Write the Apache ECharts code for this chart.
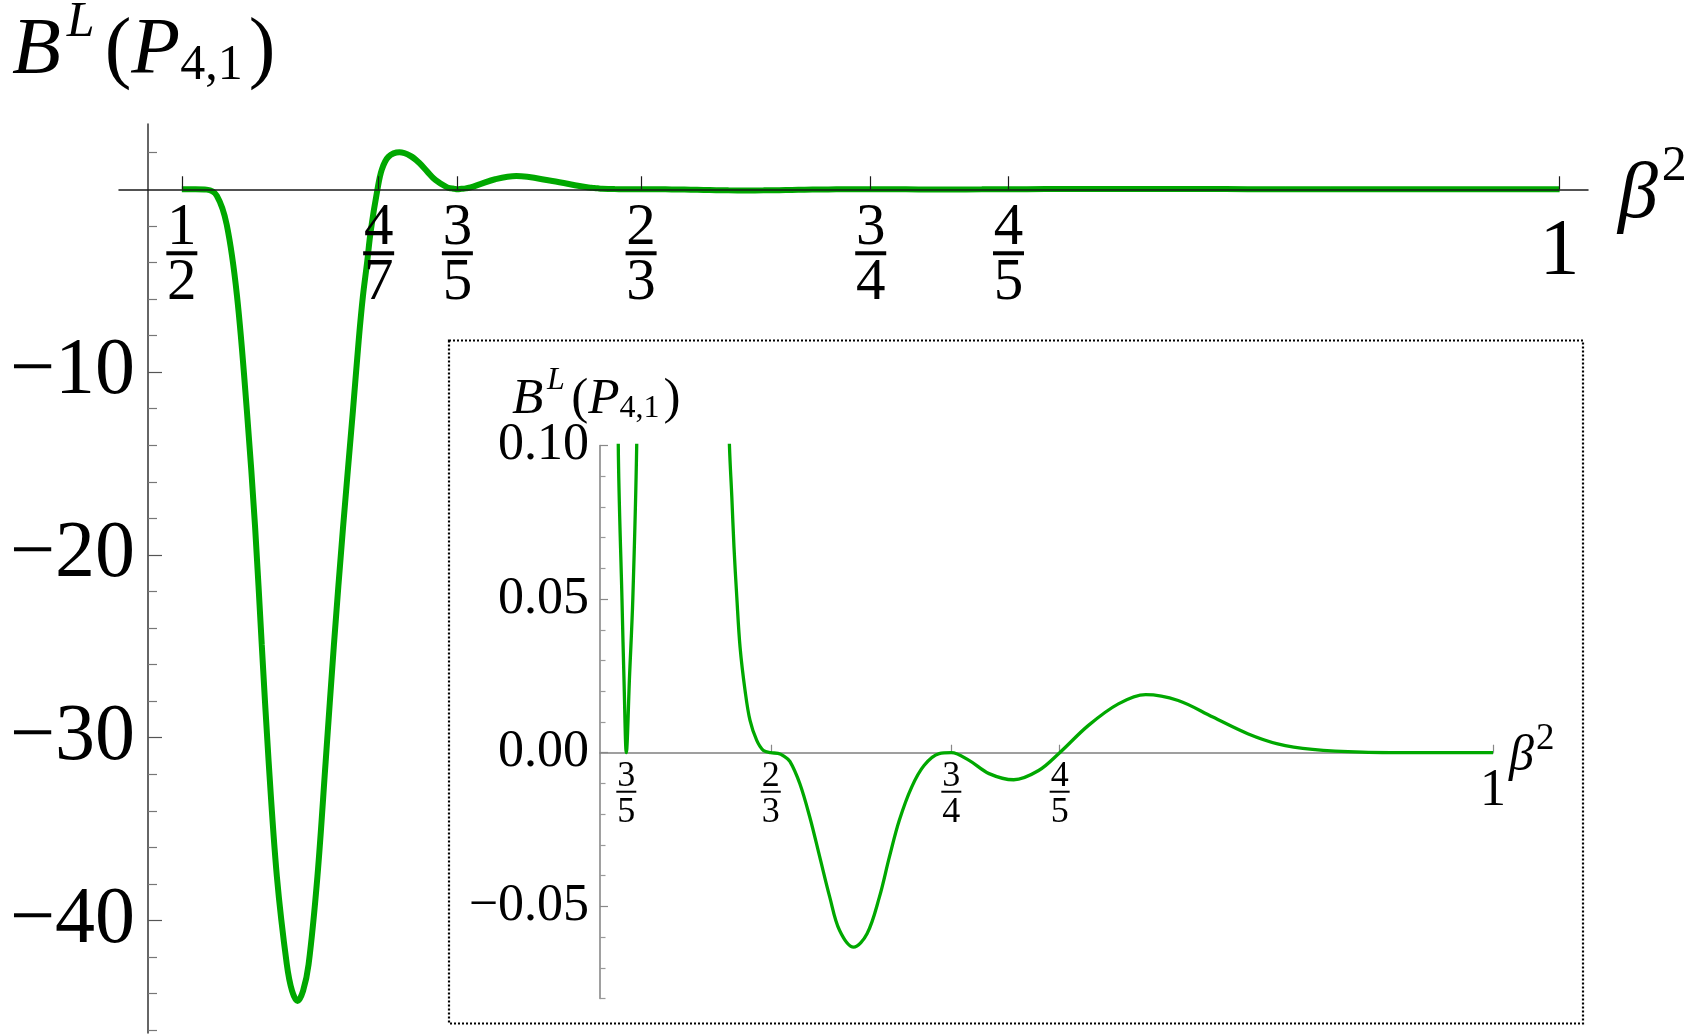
<!DOCTYPE html>
<html>
<head>
<meta charset="utf-8">
<script src="https://cdn.jsdelivr.net/npm/echarts@6/dist/echarts.min.js"></script>
<style>
html,body{margin:0;padding:0;background:#fff;}
#chart{width:1696px;height:1034px;}
</style>
</head>
<body>
<div id="chart"></div>
<script>
// ---- data ----
const betaSq = [
  0.5000, 0.5050, 0.5090, 0.5127, 0.5163, 0.5200, 0.5236, 0.5266, 0.5290, 0.5315,
  0.5345, 0.5381, 0.5400, 0.5420, 0.5440, 0.5460, 0.5492, 0.5522, 0.5552, 0.5585,
  0.5621, 0.5642, 0.5657, 0.5672, 0.5686, 0.5710, 0.5726, 0.5750, 0.5790, 0.5830,
  0.5863, 0.5890, 0.5920, 0.5963, 0.5980, 0.5990, 0.6000, 0.6015, 0.6030, 0.6048,
  0.6083, 0.6137, 0.6214, 0.6345, 0.6443, 0.6476, 0.6487, 0.6497, 0.6510, 0.6525,
  0.6548, 0.6571, 0.6602, 0.6633, 0.6667, 0.6700, 0.6725, 0.6755, 0.6801, 0.6847,
  0.6893, 0.6939, 0.6984, 0.7049, 0.7111, 0.7168, 0.7214, 0.7260, 0.7317, 0.7375,
  0.7444, 0.7500, 0.7582, 0.7674, 0.7788, 0.7903, 0.8000, 0.8133, 0.8271, 0.8397,
  0.8547, 0.8707, 0.8868, 0.9006, 0.9167, 0.9397, 0.9700, 1.0000
];
const bValue = [
  0, 0, -0.02, -0.35, -1.94, -5.8, -12.1, -18.5, -24.9, -31.3,
  -37.6, -42.4, -43.85, -44.4, -43.85, -42.4, -37.6, -31.3, -24.9, -18.5,
  -12.1, -8.24, -5.87, -4.05, -2.23, 0, 1.09, 1.78, 2.02, 1.82,
  1.42, 0.98, 0.51, 0.10, 0.05, 0.022, 0, 0.025, 0.05, 0.10,
  0.28, 0.55, 0.72, 0.45, 0.18, 0.100, 0.0832, 0.0669, 0.0506, 0.0344,
  0.0203, 0.0105, 0.0040, 0.0007, 0, -0.0002, -0.0010, -0.0028, -0.0101, -0.0210,
  -0.0340, -0.0470, -0.0578, -0.0633, -0.0589, -0.0470, -0.0340, -0.0220, -0.0112, -0.0041,
  -0.0003, 0, -0.0025, -0.0068, -0.0088, -0.0058, 0, 0.0089, 0.0159, 0.0189,
  0.0170, 0.0116, 0.0062, 0.0029, 0.0011, 0.0002, 0, 0
];
const mainXTicks = [1/2, 4/7, 3/5, 2/3, 3/4, 4/5, 1];
const mainXTickLabels = ['1/2', '4/7', '3/5', '2/3', '3/4', '4/5', '1'];
const insetXTicks = [3/5, 2/3, 3/4, 4/5, 1];
const insetXTickLabels = ['3/5', '2/3', '3/4', '4/5', '1'];
const mainYMajor = [-40, -30, -20, -10];
const mainYMajorLabels = ['\u221240', '\u221230', '\u221220', '\u221210'];
const mainYMinor = [2, -2, -4, -6, -8, -12, -14, -16, -18, -22, -24, -26, -28, -32, -34, -36, -38, -42, -44, -46];
const insetYMajor = [-0.05, 0, 0.05, 0.10];
const insetYMajorLabels = ['\u22120.05', '0.00', '0.05', '0.10'];
const insetYMinor = [-0.08, -0.07, -0.06, -0.04, -0.03, -0.02, -0.01, 0.01, 0.02, 0.03, 0.04, 0.06, 0.07, 0.08, 0.09];

// ---- build ----
const FONT = "'Liberation Serif', serif";
const GREEN = '#00a800';
const points = betaSq.map((x, i) => [x, bValue[i]]);

// layout (pixels)
const MAIN = { left: 119, right: 108, top: 124, bottom: 1, yMin: -46.15, yMax: 3.57 };
const INSET = { left: 600, width: 893, top: 445.5, height: 553, yMin: -0.08, yMax: 0.10 };
function zeroOffset(g, h) { return -h * (0 - g.yMin) / (g.yMax - g.yMin); }
const mainH = 1034 - MAIN.top - MAIN.bottom;

function findIdx(arr, v) {
  let best = 0, bd = Infinity;
  arr.forEach((a, i) => { const d = Math.abs(a - v); if (d < bd) { bd = d; best = i; } });
  return best;
}
function fracFormatter(ticks, labels) {
  return function (v) {
    const s = labels[findIdx(ticks, v)];
    if (s.indexOf('/') < 0) return '{one|' + s + '}';
    const p = s.split('/');
    return '{n|' + p[0] + '}\n{bar| }\n{d|' + p[1] + '}';
  };
}
function valFormatter(ticks, labels) {
  return function (v) { return labels[findIdx(ticks, v)]; };
}
function mathTitle(s) {
  const base = { fontFamily: FONT, color: '#000', verticalAlign: 'bottom' };
  return {
    B: Object.assign({}, base, { fontSize: 80 * s, fontStyle: 'italic', lineHeight: 80 * s, padding: [0, 0, 0, 0] }),
    sup: Object.assign({}, base, { fontSize: 50 * s, fontStyle: 'italic', lineHeight: 50 * s, padding: [0, 10 * s, 44 * s, 6 * s] }),
    par: Object.assign({}, base, { fontSize: 80 * s, lineHeight: 80 * s, padding: [0, 0, 0, 0] }),
    P: Object.assign({}, base, { fontSize: 80 * s, fontStyle: 'italic', lineHeight: 80 * s, padding: [0, 0, 0, 0] }),
    sub: Object.assign({}, base, { fontSize: 50 * s, lineHeight: 50 * s, padding: [0, 6 * s, 1 * s, 0] })
  };
}
function betaLabel(fb, fs, pb, gap) {
  const base = { fontFamily: FONT, color: '#000', verticalAlign: 'bottom' };
  return {
    b: Object.assign({}, base, { fontSize: fb, fontStyle: 'italic', lineHeight: fb }),
    s: Object.assign({}, base, { fontSize: fs, lineHeight: fs, padding: [0, 0, pb, gap] })
  };
}
const TITLE = '{B|B}{sup|L}{par|(}{P|P}{sub|4,1}{par|)}';

const chart = echarts.init(document.getElementById('chart'), null, { renderer: 'canvas' });
chart.setOption({
  animation: false,
  backgroundColor: '#fff',
  grid: [
    { left: MAIN.left, right: MAIN.right, top: MAIN.top, bottom: MAIN.bottom, containLabel: false, outerBoundsMode: 'none' },
    { left: INSET.left, width: INSET.width, top: INSET.top, height: INSET.height, containLabel: false, outerBoundsMode: 'none' }
  ],
  xAxis: [
    {
      gridIndex: 0, type: 'value', min: 0.4772, max: 1.0103, z: 5, position: 'bottom',
      offset: zeroOffset(MAIN, mainH),
      splitLine: { show: false },
      axisLine: { onZero: false, lineStyle: { color: '#1a1a1a', width: 1.5 } },
      axisTick: { customValues: mainXTicks, inside: true, length: 13, lineStyle: { color: '#1a1a1a', width: 1.2 } },
      axisLabel: {
        customValues: mainXTicks, margin: 16, color: '#000', fontFamily: FONT,
        formatter: fracFormatter(mainXTicks, mainXTickLabels),
        rich: {
          n: { fontFamily: FONT, fontSize: 59, lineHeight: 46, color: '#000' },
          bar: { width: 31, height: 4, lineHeight: 4, fontSize: 4, backgroundColor: '#000' },
          d: { fontFamily: FONT, fontSize: 59, lineHeight: 48, padding: [9, 0, 0, 0], color: '#000' },
          one: { fontFamily: FONT, fontSize: 80, lineHeight: 96, color: '#000' }
        }
      }
    },
    {
      gridIndex: 1, type: 'value', min: 0.58786, max: 1, position: 'bottom',
      offset: zeroOffset(INSET, INSET.height),
      splitLine: { show: false },
      axisLine: { onZero: false, lineStyle: { color: '#808080', width: 1.5 } },
      axisTick: { customValues: insetXTicks, inside: true, length: 8, lineStyle: { color: '#888', width: 1.2 } },
      axisLabel: {
        customValues: insetXTicks, margin: 10, color: '#000', fontFamily: FONT,
        formatter: fracFormatter(insetXTicks, insetXTickLabels),
        rich: {
          n: { fontFamily: FONT, fontSize: 36, lineHeight: 28, color: '#000' },
          bar: { width: 20, height: 2, lineHeight: 2, fontSize: 2, backgroundColor: '#000' },
          d: { fontFamily: FONT, fontSize: 36, lineHeight: 28, padding: [11, 0, 0, 0], color: '#000' },
          one: { fontFamily: FONT, fontSize: 52, lineHeight: 58, color: '#000' }
        }
      }
    }
  ],
  yAxis: [
    {
      gridIndex: 0, type: 'value', min: MAIN.yMin, max: MAIN.yMax, offset: -29, z: 5,
      splitLine: { show: false },
      axisLine: { show: true, onZero: false, lineStyle: { color: '#333', width: 1.5 } },
      axisTick: { customValues: mainYMajor, inside: true, length: 14, lineStyle: { color: '#555', width: 1.2 } },
      axisLabel: { customValues: mainYMajor, margin: 13, fontFamily: FONT, fontSize: 80, color: '#000',
        formatter: valFormatter(mainYMajor, mainYMajorLabels) }
    },
    {
      gridIndex: 0, type: 'value', min: MAIN.yMin, max: MAIN.yMax, offset: -29, position: 'left', z: 5,
      splitLine: { show: false },
      axisLine: { show: false },
      axisTick: { customValues: mainYMinor, inside: true, length: 9, lineStyle: { color: '#777', width: 1.2 } },
      axisLabel: { show: false }
    },
    {
      gridIndex: 1, type: 'value', min: INSET.yMin, max: INSET.yMax,
      splitLine: { show: false },
      axisLine: { show: true, onZero: false, lineStyle: { color: '#808080', width: 1.5 } },
      axisTick: { customValues: insetYMajor, inside: true, length: 8, lineStyle: { color: '#888', width: 1.2 } },
      axisLabel: { customValues: insetYMajor, margin: 11, fontFamily: FONT, fontSize: 52, color: '#000',
        formatter: valFormatter(insetYMajor, insetYMajorLabels) }
    },
    {
      gridIndex: 1, type: 'value', min: INSET.yMin, max: INSET.yMax, position: 'left',
      splitLine: { show: false },
      axisLine: { show: false },
      axisTick: { customValues: insetYMinor, inside: true, length: 5.5, lineStyle: { color: '#999', width: 1.2 } },
      axisLabel: { show: false }
    }
  ],
  series: [
    {
      type: 'line', xAxisIndex: 0, yAxisIndex: 0, data: points, showSymbol: false, smooth: 0.35,
      clip: true, lineStyle: { color: GREEN, width: 6 }, z: 2
    },
    {
      type: 'line', xAxisIndex: 1, yAxisIndex: 2, data: points, showSymbol: false, smooth: 0.35,
      clip: true, lineStyle: { color: GREEN, width: 3.3 }, z: 2
    }
  ],
  graphic: [
    { type: 'rect', z: 10, shape: { x: 449, y: 340.5, width: 1134, height: 683 },
      style: { fill: 'none', stroke: '#000', lineWidth: 2.2, lineDash: [2, 2] } },
    { type: 'text', z: 10, x: 12, y: 11.75,
      style: { text: TITLE, rich: mathTitle(1), align: 'left', verticalAlign: 'top' } },
    { type: 'text', z: 10, x: 512, y: 374,
      style: { text: TITLE, rich: mathTitle(0.64), align: 'left', verticalAlign: 'top' } },
    { type: 'text', z: 10, x: 1618, y: 156,
      style: { text: '{b|\u03b2}{s|2}', rich: betaLabel(80, 50, 44, 4), align: 'left', verticalAlign: 'top' } },
    { type: 'text', z: 10, x: 1509, y: 732,
      style: { text: '{b|\u03b2}{s|2}', rich: betaLabel(50, 37, 24.3, 2), align: 'left', verticalAlign: 'top' } }
  ]
});
</script>
</body>
</html>
